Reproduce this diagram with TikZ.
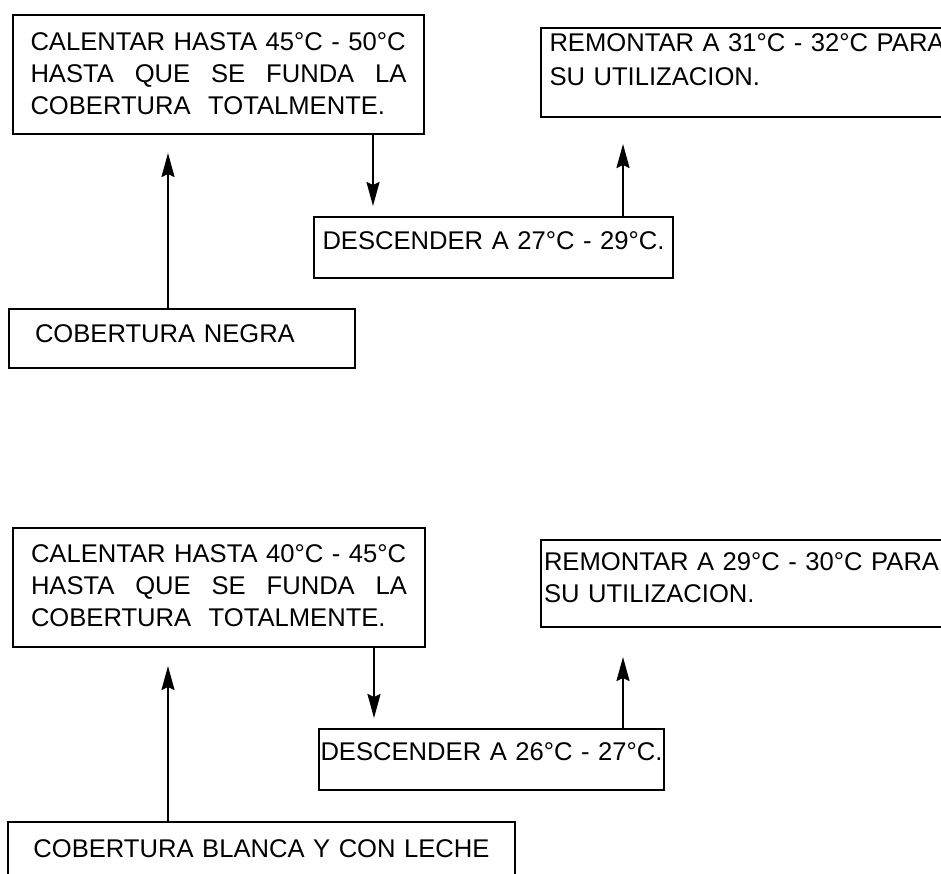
\documentclass[tikz,border=0pt]{standalone}
\usepackage{fontspec}
\setmainfont{Liberation Sans}
\usetikzlibrary{arrows.meta}
\tikzset{
  >={Stealth[length=24pt,width=13pt,inset=3pt]},
  stage/.style={draw,line width=1.8pt,anchor=north west,outer sep=0pt,inner ysep=0pt,inner xsep=0pt,font=\fontsize{25.6}{32}\selectfont},
  lstage/.style={stage,align=left},
  cstage/.style={stage,align=center},
  arr/.style={->,line width=2pt},
}

\begin{document}
\begin{tikzpicture}[x=1pt,y=-1pt]
  \useasboundingbox (0,0) rectangle (941,873);
  % negra
  \node[lstage,text width=376pt,inner xsep=17.5pt,text height=35pt,text depth=84pt] (heat1) at (13,15) {CALENTAR HASTA 45°C - 50°C\\\makebox[\linewidth][s]{HASTA\hfill QUE\hfill SE\hfill FUNDA\hfill LA}\\COBERTURA\hspace{0.35em} TOTALMENTE.};
  \node[lstage,text width=420pt,inner xsep=8.5pt,text height=23pt,text depth=66pt] (rem1) at (541,28) {REMONTAR A 31°C - 32°C PARA\\[2pt]SU UTILIZACION.};
  \node[cstage,text width=359pt,text height=32pt,text depth=29pt] (desc1) at (314,217) {DESCENDER A 27°C - 29°C.};
  \node[lstage,text width=294pt,inner xsep=26pt,text height=33pt,text depth=26pt] (neg) at (9,309) {COBERTURA NEGRA};
  \draw[arr,shorten >=19pt] ([xshift=159pt]neg.north west) -- ([xshift=155pt]heat1.south west);
  \draw[arr,shorten >=11pt] ([xshift=360pt]heat1.south west) -- ([xshift=59pt]desc1.north west);
  \draw[arr,shorten >=27pt] ([xshift=309pt]desc1.north west) -- ([xshift=82pt]rem1.south west);
  % blanca y con leche
  \node[lstage,text width=376pt,inner xsep=18pt,text height=34pt,text depth=85pt] (heat2) at (13,528) {CALENTAR HASTA 40°C - 45°C\\\makebox[\linewidth][s]{HASTA\hfill QUE\hfill SE\hfill FUNDA\hfill LA}\\COBERTURA\hspace{0.35em} TOTALMENTE.};
  \node[lstage,text width=420pt,inner xsep=3pt,text height=30pt,text depth=57pt] (rem2) at (541,540) {REMONTAR A 29°C - 30°C PARA\\SU UTILIZACION.};
  \node[cstage,text width=345pt,text height=31pt,text depth=30pt] (desc2) at (319,729) {DESCENDER A 26°C - 27°C.};
  \node[cstage,text width=507pt,text height=35pt,text depth=60pt] (blanca) at (8,822) {COBERTURA BLANCA Y CON LECHE};
  \draw[arr,shorten >=19pt] ([xshift=160pt]blanca.north west) -- ([xshift=155pt]heat2.south west);
  \draw[arr,shorten >=11pt] ([xshift=361pt]heat2.south west) -- ([xshift=55pt]desc2.north west);
  \draw[arr,shorten >=30pt] ([xshift=304pt]desc2.north west) -- ([xshift=82pt]rem2.south west);
\end{tikzpicture}
\end{document}
